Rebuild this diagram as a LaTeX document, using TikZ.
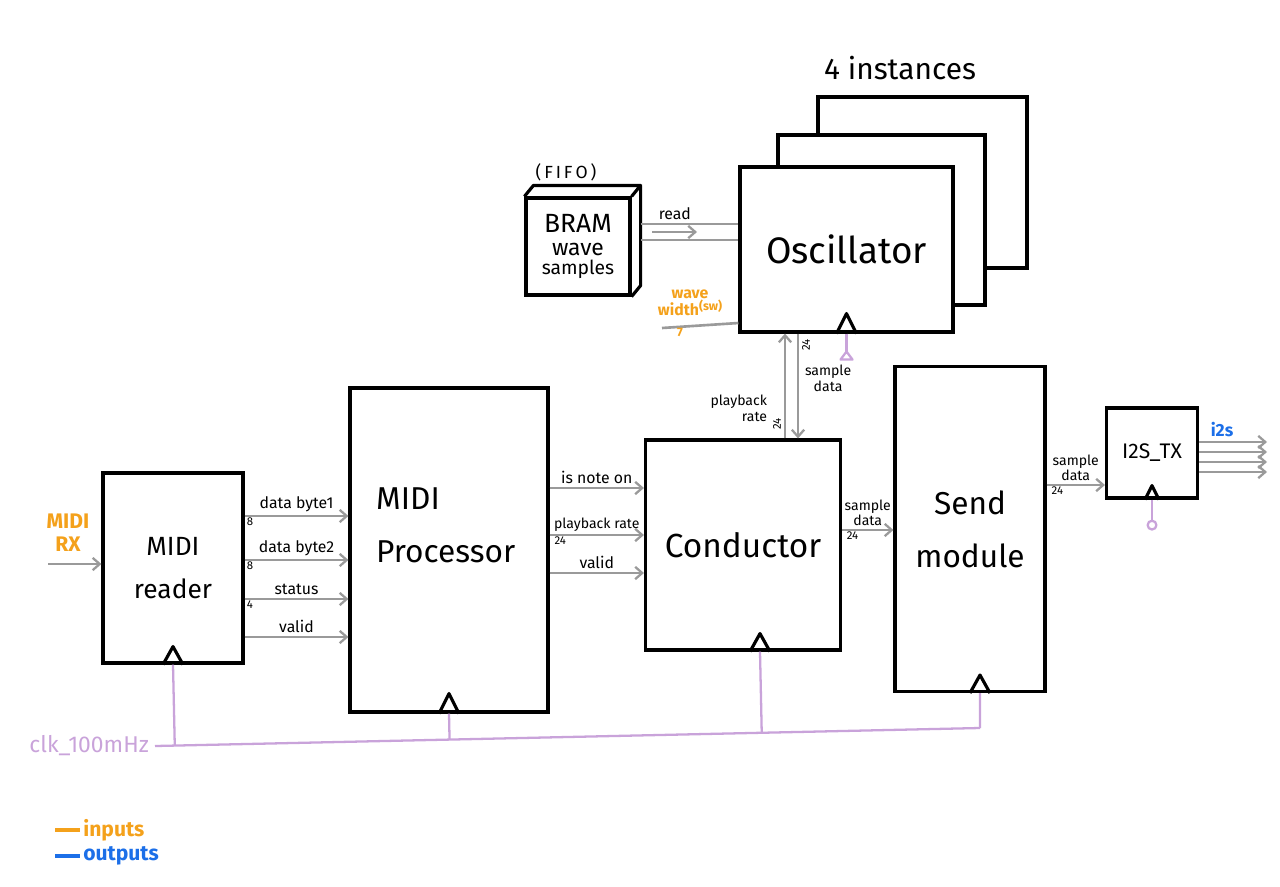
\documentclass[tikz,border=0pt]{standalone}
\usepackage{fontspec}
\setmainfont{Fira Sans}
\usepackage{tikz}
\usetikzlibrary{positioning,arrows.meta,calc}
\usepackage{xcolor}
\definecolor{wiregray}{HTML}{9A9A9A}
\definecolor{inorange}{HTML}{F4A11B}
\definecolor{outblue}{HTML}{1C6FE8}
\definecolor{clkpurple}{HTML}{C9A3DA}

\begin{document}
\begin{tikzpicture}[
  x=0.02cm, y=-0.02cm,
  block/.style={draw, line width=1.8pt, fill=white, inner sep=0pt, align=center},
  outline/.style={draw, line width=1.8pt, line join=round},
  bigtext/.style={font=\fontsize{18}{30}\selectfont, align=center},
  sig/.style={font=\fontsize{9}{11}\selectfont, text=black, inner sep=1.5pt, align=center},
  buswd/.style={font=\fontsize{6.5}{7}\selectfont, text=black, inner sep=0.5pt},
  wire/.style={line width=1.5pt, wiregray},
  arr/.style={wire, -{Straight Barb[length=4pt,width=7pt,line width=1.3pt]}},
  clkline/.style={line width=1.3pt, clkpurple, line join=round},
  inlbl/.style={font=\fontsize{12}{13}\selectfont\bfseries, text=inorange, align=center, inner sep=1pt},
  outlbl/.style={font=\fontsize{10}{11}\selectfont\bfseries, text=outblue, inner sep=1pt}
]
\useasboundingbox (0,0) rectangle (1280,886);

% oscillator instances
\node (inst) at (900,68) {\fontsize{17}{18}\selectfont 4 instances};
\node[block, minimum width=4.18cm, minimum height=3.42cm] (osc3) at (922.5,182.5) {};
\node[block, minimum width=4.14cm, minimum height=3.40cm] (osc2) at (881.5,220) {};
\node[block, minimum width=4.26cm, minimum height=3.30cm, font=\fontsize{21}{24}\selectfont] (osc1) at (846.5,249.5) {Oscillator};

% BRAM
\node[block, minimum width=2.08cm, minimum height=1.94cm] (bram) at (578,246.5)
  {{\fontsize{15}{17}\selectfont BRAM}\\[1pt]{\fontsize{13}{15}\selectfont wave}\\[-1pt]{\fontsize{11}{13}\selectfont samples}};
\draw[outline] (bram.north west) -- ++(9,-11) -- ($(bram.north east)+(9,-11)$) -- (bram.north east);
\draw[outline] ($(bram.north east)+(9,-11)$) -- ($(bram.south east)+(9,-11)$) -- (bram.south east);
\node[font=\fontsize{10}{11}\selectfont] (fifo) at (566,172) {(\,F\,I\,F\,O\,)};

% main blocks
\node[block, minimum width=2.80cm, minimum height=3.80cm, font=\fontsize{15}{24}\selectfont] (reader) at (173,568) {MIDI\\reader};
\node[block, minimum width=3.96cm, minimum height=6.48cm] (proc) at (449,550) {};
\node[bigtext, align=left, anchor=west] (proclbl) at (370,525) {MIDI\\Processor};
\node[block, minimum width=3.90cm, minimum height=4.20cm, font=\fontsize{19}{22}\selectfont] (cond) at (743,545) {Conductor};
\node[block, minimum width=3.00cm, minimum height=6.50cm, bigtext] (send) at (970,529) {Send\\module};
\node[block, minimum width=1.82cm, minimum height=1.80cm, font=\fontsize{12}{13}\selectfont] (i2s) at (1152,453) {I2S\_TX};

% clock inputs
\draw[outline] ([xshift=-0.2cm]reader.south) -- ([yshift=0.36cm]reader.south) -- ([xshift=0.2cm]reader.south);
\draw[outline] ([xshift=-0.2cm]proc.south) -- ([yshift=0.4cm]proc.south) -- ([xshift=0.2cm]proc.south);
\draw[outline] ([xshift=0.14cm]cond.south) -- ([xshift=0.34cm,yshift=0.36cm]cond.south) -- ([xshift=0.54cm]cond.south);
\draw[outline] ([xshift=0.0cm]send.south) -- ([xshift=0.2cm,yshift=0.36cm]send.south) -- ([xshift=0.4cm]send.south);
\draw[outline] ([xshift=-0.2cm]osc1.south) -- ([yshift=0.4cm]osc1.south) -- ([xshift=0.2cm]osc1.south);
\draw[outline] ([xshift=-0.14cm]i2s.south) -- ([yshift=0.28cm]i2s.south) -- ([xshift=0.14cm]i2s.south);

% clock net
\coordinate (clkA) at (155,746);
\coordinate (clkB) at (980,728);
\coordinate (condck) at ([xshift=0.34cm]cond.south);
\coordinate (sendck) at ([xshift=0.2cm]send.south);
\node[font=\fontsize{13}{14}\selectfont, text=clkpurple, anchor=east] (clk) at (clkA) {clk\_100mHz};
\draw[clkline] (clkA) -- (clkB);
\draw[clkline] (reader.south) -- ($(clkA)!(reader.south)!(clkB)$);
\draw[clkline] (proc.south) -- ($(clkA)!(proc.south)!(clkB)$);
\draw[clkline] (condck) -- ($(clkA)!(condck)!(clkB)$);
\draw[clkline] (sendck) -- (clkB);
\draw[clkline] (osc1.south) -- ++(0,18) coordinate (oscck);
\draw[clkline] (oscck) -- ++(-6,8) -- ++(12,0) -- cycle;
\draw[clkline] (i2s.south) -- ++(0,20) node[circle, draw=clkpurple, line width=1.3pt, inner sep=0pt, minimum size=5pt, anchor=north] (i2sck) {};

% MIDI input
\coordinate (rxin) at (48,564);
\node[inlbl, above=6pt of rxin, xshift=0.4cm] (rxlbl) {MIDI\\RX};
\draw[arr] (rxin) -- (reader.west |- rxin);

% reader -> processor
\draw[arr] (reader.east |- 0,516) -- (proc.west |- 0,516) node[sig, midway, above] (db1) {data byte1} node[buswd, pos=0, anchor=north west] (w1) {8};
\draw[arr] (reader.east |- 0,560) -- (proc.west |- 0,560) node[sig, midway, above] (db2) {data byte2} node[buswd, pos=0, anchor=north west] (w2) {8};
\draw[arr] (reader.east |- 0,599) -- (proc.west |- 0,599) node[sig, midway, above] (st) {status} node[buswd, pos=0, anchor=north west] (w3) {4};
\draw[arr] (reader.east |- 0,637) -- (proc.west |- 0,637) node[sig, midway, above] (vd1) {valid};

% processor -> conductor
\draw[arr] (proc.east |- 0,488) -- (cond.west |- 0,488) node[sig, midway, above] (non) {is note on};
\draw[arr] (proc.east |- 0,535) -- (cond.west |- 0,535) node[sig, midway, above, font=\fontsize{8}{9}\selectfont] (pbr) {playback rate} node[buswd, pos=0.03, anchor=north west] (w4) {24};
\draw[arr] (proc.east |- 0,573) -- (cond.west |- 0,573) node[sig, midway, above] (vd2) {valid};

% conductor <-> oscillator
\draw[arr] (cond.north -| 785,0) -- (osc1.south -| 785,0);
\draw[arr] (osc1.south -| 798,0) -- (cond.north -| 798,0);
\node[sig, font=\fontsize{8}{9}\selectfont, align=right, anchor=east] (pbr2) at (770,408) {playback\\rate};
\node[buswd, rotate=90] (w5) at (777,424) {24};
\node[buswd, rotate=90] (w6) at (806,345) {24};
\node[sig, font=\fontsize{8}{9}\selectfont, anchor=west] (sd1) at (802,378) {sample\\data};

% BRAM <-> oscillator
\draw[wire] ($(bram.east |- 0,224)+(9,0)$) -- (osc1.west |- 0,224) node[sig, pos=0.35, above] (rd) {read};
\draw[wire] ($(bram.east |- 0,240)+(9,0)$) -- (osc1.west |- 0,240);
\coordinate (rdA) at (652,232);
\coordinate (rdB) at (697,232);
\draw[arr, line width=1.2pt] (rdA) -- (rdB);

% wave width input
\coordinate (wwin) at (662,328);
\draw[wire] (wwin) -- (osc1.west |- 0,323);
\node[inlbl, font=\fontsize{9}{9}\selectfont\bfseries, anchor=south] (wwlbl) at (690,318) {wave\\width\raisebox{0.6ex}{\fontsize{7}{7}\selectfont(sw)}};
\node[buswd, text=inorange, font=\fontsize{7}{7}\selectfont\bfseries] (w7) at (680,332) {7};

% conductor -> send -> I2S
\draw[arr] (cond.east |- 0,530) -- (send.west |- 0,530) node[sig, midway, above, font=\fontsize{8}{9}\selectfont] (sd2) {sample\\data} node[buswd, pos=0.05, anchor=north west] (w8) {24};
\draw[arr] (send.east |- 0,485) -- (i2s.west |- 0,485) node[sig, midway, above, font=\fontsize{8}{9}\selectfont] (sd3) {sample\\data} node[buswd, pos=0.05, anchor=north west] (w9) {24};

% I2S outputs
\coordinate (o1) at (1267,442);
\coordinate (o2) at (1267,452);
\coordinate (o3) at (1267,462);
\coordinate (o4) at (1267,472);
\draw[arr] (i2s.east |- o1) -- (o1);
\draw[arr] (i2s.east |- o2) -- (o2);
\draw[arr] (i2s.east |- o3) -- (o3);
\draw[arr] (i2s.east |- o4) -- (o4);
\node[outlbl] (i2slbl) at (1222,430) {i2s};

% legend
\draw[line width=1.8pt, inorange] (55,830) -- (80,830) node[inlbl, font=\fontsize{12}{13}\selectfont\bfseries, anchor=west] (leg1) {inputs};
\draw[line width=1.8pt, outblue] (55,856) -- (80,856) node[outlbl, font=\fontsize{12}{13}\selectfont\bfseries, anchor=west] (leg2) {outputs};
\end{tikzpicture}
\end{document}
